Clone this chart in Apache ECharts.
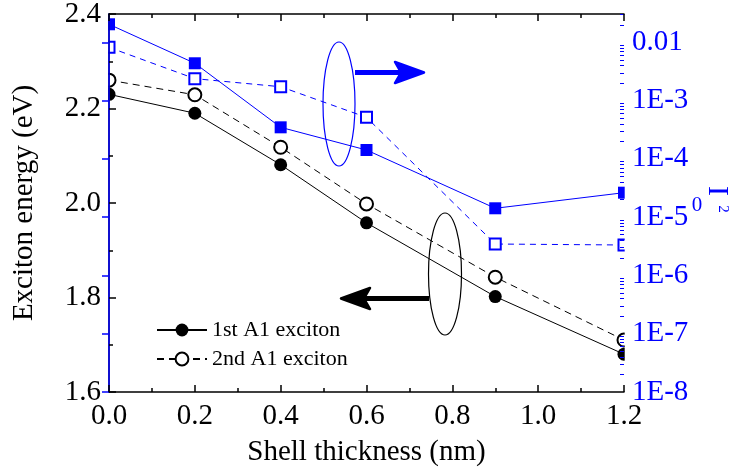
<!DOCTYPE html>
<html>
<head>
<meta charset="utf-8">
<script src="https://cdn.jsdelivr.net/npm/echarts@6/dist/echarts.min.js"></script>
<style>
  html, body { margin: 0; padding: 0; background: #fff; }
  #chart { width: 737px; height: 470px; }
</style>
</head>
<body>
<div id="chart"></div>
<script>
// Shell thickness (nm)
const thickness = [0, 0.2, 0.4, 0.6, 0.9, 1.2];
// Exciton energies (eV), left axis
const energy1st = [2.230, 2.190, 2.081, 1.958, 1.802, 1.680];
const energy2nd = [2.260, 2.229, 2.118, 1.998, 1.843, 1.710];
// Oscillator strength |I0|^2, right log axis
const osc1st = [0.0204, 0.00437, 3.48e-4, 1.42e-4, 1.42e-5, 2.63e-5];
const osc2nd = [0.0082, 0.00238, 0.00173, 5.16e-4, 3.46e-6, 3.33e-6];
// Right axis tick values and their labels
const logTickValues = [1e-8, 1e-7, 1e-6, 1e-5, 1e-4, 1e-3, 1e-2];
const logTickLabels = ['1E-8', '1E-7', '1E-6', '1E-5', '1E-4', '1E-3', '0.01'];
const LOG_MIN = 1e-8;
const LOG_MAX = Math.pow(10, -1.514);

const FONT = 'Liberation Serif';
const BLUE = '#0000ff';
const GRID = { left: 109, top: 14, width: 515, height: 378 };

// minor ticks at 2..9 within each decade
const logMinorValues = [];
for (let e = -8; e <= -2; e++) {
  for (let m = 2; m <= 9; m++) {
    const v = m * Math.pow(10, e);
    if (v < LOG_MAX) logMinorValues.push(v);
  }
}

const pairs = (xs, ys) => xs.map((x, i) => [x, ys[i]]);
const logLabel = v => {
  const k = logTickValues.findIndex(t => Math.abs(Math.log10(t) - Math.log10(v)) < 0.01);
  return k >= 0 ? logTickLabels[k] : '';
};

const chart = echarts.init(document.getElementById('chart'), null, { renderer: 'canvas' });

const tickStyle = color => ({ color: color, width: 1.5 });
const labelStyle = (color, margin) => ({ fontFamily: FONT, fontSize: 29, color: color, margin: margin });

const option = {
  animation: false,
  backgroundColor: '#fff',
  textStyle: { fontFamily: FONT },
  grid: Object.assign({ containLabel: false, outerBoundsMode: 'none' }, GRID),
  legend: {
    data: ['1st A1 exciton', '2nd A1 exciton'],
    orient: 'vertical',
    left: 156,
    top: 319,
    padding: 0,
    itemWidth: 50,
    itemHeight: 16,
    itemGap: 7,
    itemTextGap: 6,
    textStyle: { fontFamily: FONT, fontSize: 22, color: '#000' }
  },
  xAxis: [
    {
      type: 'value', min: 0, max: 1.2, interval: 0.2, position: 'bottom', z: 60,
      axisLine: { lineStyle: tickStyle('#000') },
      axisTick: { inside: true, length: 7, lineStyle: tickStyle('#000') },
      minorTick: { show: true, splitNumber: 2, length: 4, lineStyle: tickStyle('#000') },
      splitLine: { show: false },
      axisLabel: Object.assign(labelStyle('#000', 10), { formatter: v => v.toFixed(1) }),
      name: 'Shell thickness (nm)', nameLocation: 'middle', nameGap: 46,
      nameTextStyle: { fontFamily: FONT, fontSize: 29, color: '#000' }
    },
    {
      type: 'value', min: 0, max: 1.2, interval: 0.2, position: 'top', z: 60,
      axisLine: { lineStyle: tickStyle('#000') },
      axisTick: { inside: true, length: 7, lineStyle: tickStyle('#000') },
      minorTick: { show: true, splitNumber: 2, length: 4, lineStyle: tickStyle('#000') },
      splitLine: { show: false },
      axisLabel: { show: false }
    }
  ],
  yAxis: [
    {
      type: 'value', min: 1.6, max: 2.4, interval: 0.2, position: 'left', z: 60,
      axisLine: { show: true, lineStyle: tickStyle('#000') },
      axisTick: { show: true, inside: true, length: 7, lineStyle: tickStyle('#000') },
      minorTick: { show: true, splitNumber: 2, length: 4, lineStyle: tickStyle('#000') },
      splitLine: { show: false },
      axisLabel: Object.assign(labelStyle('#000', 8), { formatter: v => v.toFixed(1) }),
      name: 'Exciton energy (eV)', nameLocation: 'middle', nameGap: 70, nameRotate: 90,
      nameTextStyle: { fontFamily: FONT, fontSize: 29, color: '#000' }
    },
    {
      type: 'log', logBase: 10, min: LOG_MIN, max: LOG_MAX, position: 'right', z: 60,
      axisLine: { show: true, lineStyle: tickStyle(BLUE) },
      axisTick: { show: true, inside: true, length: 7, customValues: logTickValues, lineStyle: tickStyle(BLUE) },
      splitLine: { show: false },
      axisLabel: Object.assign(labelStyle(BLUE, 8), { customValues: logTickValues, formatter: logLabel })
    },
    {
      type: 'log', logBase: 10, min: LOG_MIN, max: LOG_MAX, position: 'right', z: 60,
      axisLine: { show: false },
      axisTick: { show: true, inside: true, length: 4, customValues: logMinorValues, lineStyle: { color: BLUE, width: 1 } },
      splitLine: { show: false },
      axisLabel: { show: false }
    }
  ],
  series: [
    {
      name: '1st A1 exciton', type: 'line', xAxisIndex: 0, yAxisIndex: 0,
      data: pairs(thickness, energy1st),
      symbol: 'circle', symbolSize: 13,
      itemStyle: { color: '#000' },
      lineStyle: { color: '#000', width: 1 }
    },
    {
      name: '2nd A1 exciton', type: 'line', xAxisIndex: 0, yAxisIndex: 0,
      data: pairs(thickness, energy2nd),
      symbol: 'emptyCircle', symbolSize: 13,
      itemStyle: { color: '#000', borderColor: '#000', borderWidth: 1 },
      lineStyle: { color: '#000', width: 1, type: [7, 5] }
    },
    {
      name: 'I0^2 1st', type: 'line', xAxisIndex: 0, yAxisIndex: 1,
      data: pairs(thickness, osc1st),
      symbol: 'rect', symbolSize: 12,
      itemStyle: { color: BLUE },
      lineStyle: { color: BLUE, width: 1 }
    },
    {
      name: 'I0^2 2nd', type: 'line', xAxisIndex: 0, yAxisIndex: 1,
      data: pairs(thickness, osc2nd),
      symbol: 'emptyRect', symbolSize: 11,
      itemStyle: { color: BLUE, borderColor: BLUE, borderWidth: 1.3 },
      lineStyle: { color: BLUE, width: 1, type: [6, 5] }
    }
  ],
  graphic: {
    elements: [
      // white strips trimming the markers that sit on the left and right frame
      { type: 'rect', silent: true, z: 50, shape: { x: GRID.left - 9, y: 0, width: 8.3, height: 420 }, style: { fill: '#fff' } },
      { type: 'rect', silent: true, z: 50, shape: { x: GRID.left + GRID.width + 0.7, y: 0, width: 8.3, height: 420 }, style: { fill: '#fff' } },
      // right axis title: |I0|^2
      { type: 'text', z: 61, x: 717, y: 186, rotation: -Math.PI / 2,
        style: { text: 'I', fontFamily: FONT, fontSize: 30, fill: BLUE, align: 'left', verticalAlign: 'middle' } },
      { type: 'text', z: 61, x: 697, y: 205,
        style: { text: '0', fontFamily: FONT, fontSize: 21, fill: BLUE, align: 'center', verticalAlign: 'middle' } },
      { type: 'text', z: 61, x: 723, y: 209, rotation: -Math.PI / 2,
        style: { text: '2', fontFamily: FONT, fontSize: 15, fill: BLUE, align: 'center', verticalAlign: 'middle' } },
      // group marker for the right-axis curves
      { type: 'ellipse', z: 55, silent: true, shape: { cx: 339, cy: 104, rx: 16, ry: 62 }, style: { fill: 'none', stroke: BLUE, lineWidth: 1.2 } },
      { type: 'rect', z: 55, silent: true, shape: { x: 355, y: 70, width: 46, height: 5 }, style: { fill: BLUE } },
      { type: 'polygon', z: 55, silent: true, shape: { points: [[424, 72.5], [395, 62], [401, 72.5], [395, 83]] }, style: { fill: BLUE, stroke: BLUE, lineWidth: 2.5, lineJoin: 'round' } },
      // group marker for the left-axis curves
      { type: 'ellipse', z: 55, silent: true, shape: { cx: 445, cy: 274, rx: 16.5, ry: 61 }, style: { fill: 'none', stroke: '#000', lineWidth: 1.2 } },
      { type: 'rect', z: 55, silent: true, shape: { x: 364, y: 296, width: 65, height: 5 }, style: { fill: '#000' } },
      { type: 'polygon', z: 55, silent: true, shape: { points: [[341, 298.5], [370, 288], [364, 298.5], [370, 309]] }, style: { fill: '#000', stroke: '#000', lineWidth: 2.5, lineJoin: 'round' } }
    ]
  }
};

chart.setOption(option);
</script>
</body>
</html>
